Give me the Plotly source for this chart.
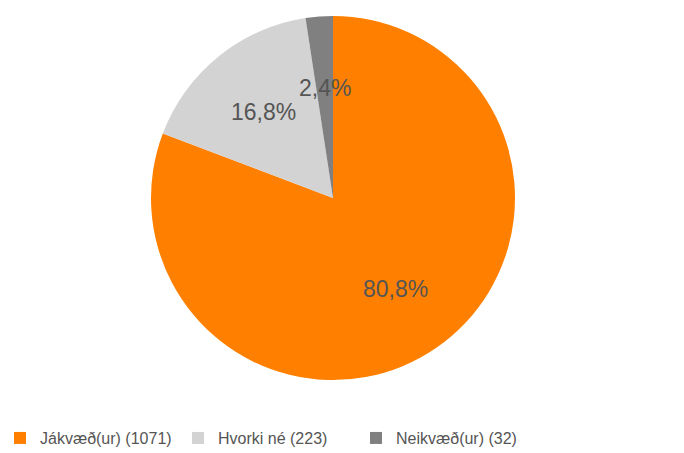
import math
import plotly.graph_objects as go

labels = ["Jákvæð(ur) (1071)", "Hvorki né (223)", "Neikvæð(ur) (32)"]
values = [1071, 223, 32]
colors = ["#FF8000", "#D3D3D3", "#808080"]

W, H = 684, 453
CX, CY, R = 333, 198, 182  # pixel centre/radius of pie

dom_x = [(CX - R) / W, (CX + R) / W]
dom_y = [(H - CY - R) / H, (H - CY + R) / H]

fig = go.Figure(go.Pie(
    labels=labels,
    values=values,
    marker=dict(colors=colors, line=dict(width=0)),
    sort=False,
    direction="clockwise",
    rotation=0,
    textinfo="none",
    hoverinfo="label+percent",
    domain=dict(x=dom_x, y=dom_y),
))

total = sum(values)
annotations = []
cum = 0.0
for v in values:
    frac = v / total
    mid = (cum + frac / 2) * 2 * math.pi
    cum += frac
    r = 0.605 * R
    px = CX + r * math.sin(mid)
    py = CY - r * math.cos(mid)
    pct = f"{frac * 100:.1f}".replace(".", ",") + "%"
    annotations.append(dict(
        x=px / W, y=(H - py) / H, xref="paper", yref="paper",
        text=pct, showarrow=False,
        font=dict(family="Liberation Sans, Arial, sans-serif", size=23, color="#555555"),
        xanchor="center", yanchor="middle",
    ))

fig.update_layout(
    width=W, height=H,
    margin=dict(l=0, r=0, t=0, b=0, autoexpand=False),
    paper_bgcolor="white",
    plot_bgcolor="white",
    annotations=annotations,
    showlegend=True,
    legend=dict(
        orientation="h",
        x=0.0, xanchor="left",
        y=0.033, yanchor="middle",
        font=dict(family="Liberation Sans, Arial, sans-serif", size=16, color="#555555"),
        traceorder="normal",
        itemclick=False,
        entrywidth=133,
        entrywidthmode="pixels",
    ),
)

fig.write_html(
    "out.html",
    config={"displayModeBar": False},
    post_script="document.body.style.margin='0';document.body.style.padding='0';",
)
